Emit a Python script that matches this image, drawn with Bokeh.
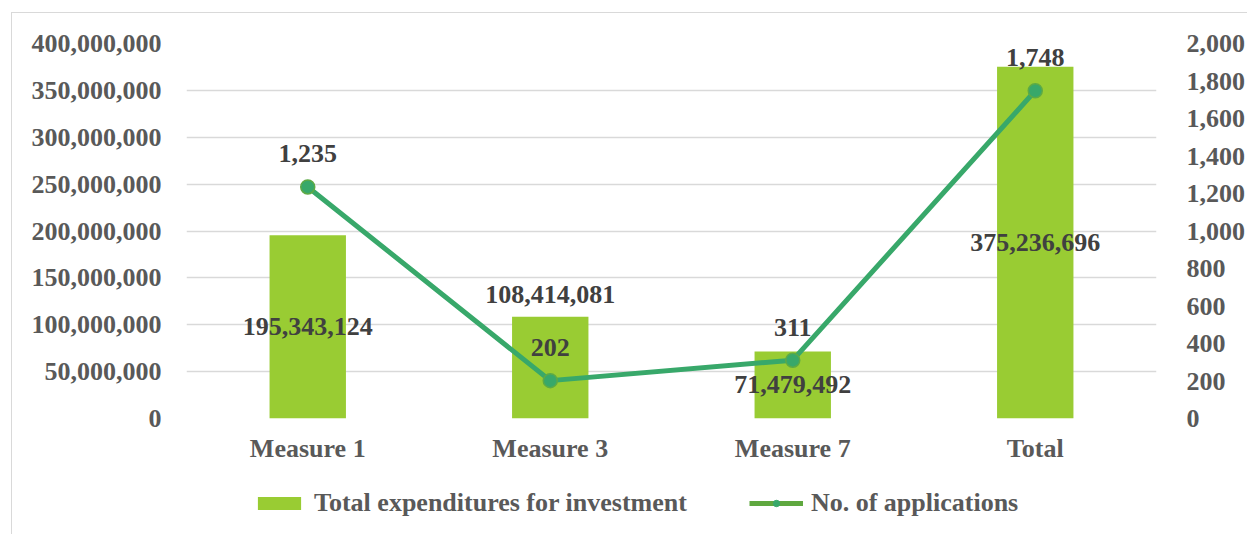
from bokeh.plotting import figure
from bokeh.layouts import column
from bokeh.models import (FactorRange, Range1d, LinearAxis, FixedTicker, NumeralTickFormatter,
                          ColumnDataSource, Legend, LegendItem)
from bokeh.core.properties import value
from bokeh.embed import file_html
from bokeh.resources import INLINE

categories = ["Measure 1", "Measure 3", "Measure 7", "Total"]
expenditures = [195343124, 108414081, 71479492, 375236696]
applications = [1235, 202, 311, 1748]
exp_labels = ["195,343,124", "108,414,081", "71,479,492", "375,236,696"]
app_labels = ["1,235", "202", "311", "1,748"]
exp_label_outside = [False, True, False, False]
left_ticks = [0, 50000000, 100000000, 150000000, 200000000, 250000000, 300000000, 350000000, 400000000]
right_ticks = [0, 200, 400, 600, 800, 1000, 1200, 1400, 1600, 1800, 2000]
series_names = ["Total expenditures for investment", "No. of applications"]

FONT = "Liberation Serif"
AXIS_COLOR = "#595959"
LABEL_COLOR = "#404040"
BAR_COLOR = "#99CC33"
LINE_COLOR = "#38A86A"
MARKER_LINE = "#5DAA45"
BORDER = "1px solid #d9d9d9"

p = figure(x_range=FactorRange(*categories), y_range=Range1d(0, 400000000),
           width=1236, height=455, output_backend="svg", toolbar_location=None,
           min_border_left=174, min_border_right=89, min_border_top=30, min_border_bottom=50,
           margin=(12, 0, 0, 11),
           styles={"border-left": BORDER, "border-top": BORDER})
p.extra_y_ranges = {"apps": Range1d(0, 2000)}
p.outline_line_color = None
p.xgrid.grid_line_color = None
p.ygrid.grid_line_color = "#d9d9d9"
p.ygrid.grid_line_width = 1.5
p.yaxis.ticker = FixedTicker(ticks=left_ticks)
p.yaxis.formatter = NumeralTickFormatter(format="0,0")

right_axis = LinearAxis(y_range_name="apps", ticker=FixedTicker(ticks=right_ticks),
                        formatter=NumeralTickFormatter(format="0,0"))
p.add_layout(right_axis, "right")

for ax in [p.xaxis[0], p.yaxis[0], right_axis]:
    ax.axis_line_color = None
    ax.major_tick_line_color = None
    ax.minor_tick_line_color = None
    ax.major_label_text_font = FONT
    ax.major_label_text_font_style = "bold"
    ax.major_label_text_font_size = "26px"
    ax.major_label_text_color = AXIS_COLOR
p.yaxis[0].major_label_standoff = 19
right_axis.major_label_standoff = 24
p.xaxis[0].major_label_standoff = 9

src = ColumnDataSource(dict(
    cat=categories, exp=expenditures, apps=applications,
    exp_lab=exp_labels, app_lab=app_labels,
    exp_y=[v if o else v / 2 for v, o in zip(expenditures, exp_label_outside)],
    exp_off=[-22 if o else 0 for o in exp_label_outside],
))

p.vbar(x="cat", top="exp", width=0.315, source=src, color=BAR_COLOR, line_color=None)
p.line(x="cat", y="apps", source=src, y_range_name="apps", line_color=LINE_COLOR, line_width=5)
p.scatter(x="cat", y="apps", source=src, y_range_name="apps", size=14,
          fill_color=LINE_COLOR, line_color=MARKER_LINE, line_width=1.5)

p.text(x="cat", y="exp_y", text="exp_lab", source=src, y_offset="exp_off",
       text_align="center", text_baseline="middle", text_font=value(FONT),
       text_font_style="bold", text_font_size="26px", text_color=LABEL_COLOR)
p.text(x="cat", y="apps", text="app_lab", source=src, y_range_name="apps", y_offset=-33,
       text_align="center", text_baseline="middle", text_font=value(FONT),
       text_font_style="bold", text_font_size="26px", text_color=LABEL_COLOR)

# legend strip below the chart (its frame is aligned with the main chart's frame)
lg = figure(width=1236, height=67, output_backend="svg", toolbar_location=None,
            x_range=Range1d(0, 1), y_range=Range1d(0, 1), min_border=0,
            x_axis_location=None, y_axis_location=None, margin=(0, 0, 0, 11),
            styles={"border-left": BORDER})
lg.outline_line_color = None
lg.grid.grid_line_color = None
# swatch-only renderers, kept outside the visible range of the legend strip
r_bar = lg.vbar(x=[-5], top=[-5], width=0.1, color=BAR_COLOR, line_color=None)
r_line = lg.line(x=[-5, -4], y=[-5, -5], line_color="#5FA83F", line_width=5)
r_pt = lg.scatter(x=[-5], y=[-5], size=14, fill_color=LINE_COLOR, line_color=LINE_COLOR)
legend = Legend(items=[LegendItem(label=series_names[0], renderers=[r_bar]),
                       LegendItem(label=series_names[1], renderers=[r_line, r_pt])],
                orientation="horizontal", location=(66, 16),
                label_text_font=FONT, label_text_font_style="bold", label_text_font_size="26px",
                label_text_color=AXIS_COLOR, glyph_width=54, glyph_height=16,
                label_standoff=8, spacing=62, padding=4, margin=0,
                border_line_color=None, background_fill_alpha=0)
lg.add_layout(legend, "center")

layout = column(p, lg, spacing=0)
open("out.html", "w").write(file_html(layout, INLINE))
